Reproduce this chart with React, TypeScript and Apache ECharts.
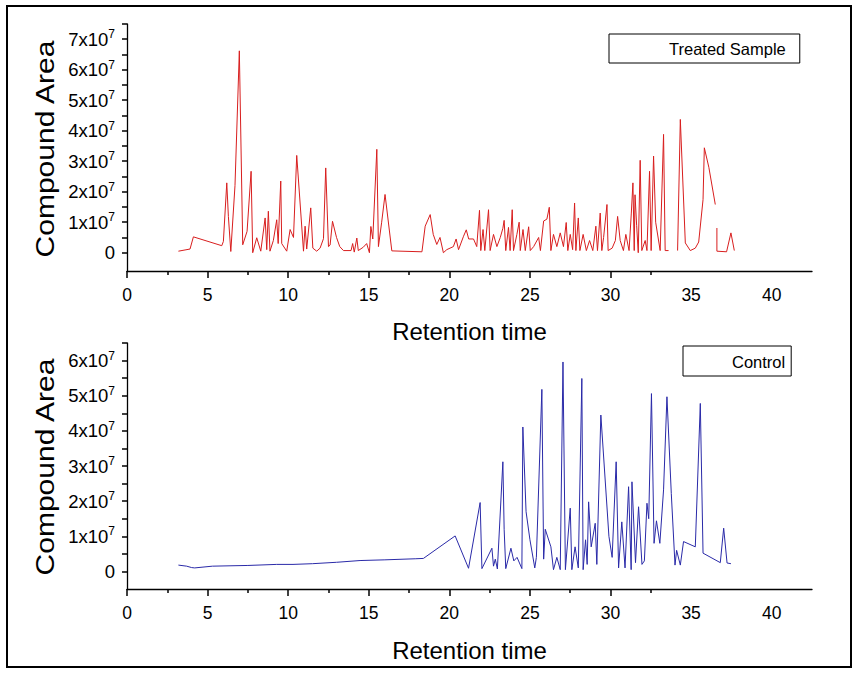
import React, { useEffect, useRef } from "react";
import * as echarts from "echarts";

// Retention time (min) and compound area (in units of 10^7) — Treated Sample
const treatedTime = [
  3.19, 3.91, 4.12, 5.88, 5.98, 6.19, 6.29, 6.44, 6.7, 6.97,
  7.18, 7.45, 7.7, 7.8, 8.05, 8.3, 8.57, 8.67, 8.77, 8.87,
  9.08, 9.29, 9.38, 9.54, 9.6, 9.91, 10.12, 10.33, 10.53, 10.95,
  11.05, 11.15, 11.4, 11.53, 11.77, 11.98, 12.19, 12.33, 12.5, 12.6,
  12.75, 13.0, 13.2, 13.43, 13.9, 14.0, 14.1, 14.26, 14.35, 14.66,
  14.87, 15.04, 15.13, 15.25, 15.5, 15.6, 15.8, 16.01, 16.43, 17.0,
  18.3, 18.5, 18.81, 19.0, 19.22, 19.42, 19.63, 19.84, 20.25, 20.42,
  20.57, 20.88, 21.05, 21.2, 21.5, 21.7, 21.87, 21.95, 22.09, 22.2,
  22.43, 22.53, 22.74, 22.95, 23.16, 23.32, 23.4, 23.5, 23.67, 23.77,
  23.9, 23.98, 24.19, 24.33, 24.4, 24.57, 24.71, 24.92, 25.02, 25.23,
  25.54, 25.65, 25.85, 26.05, 26.2, 26.3, 26.46, 26.67, 26.88, 27.08,
  27.25, 27.35, 27.5, 27.65, 27.77, 27.85, 28.0, 28.1, 28.3, 28.5,
  28.7, 28.9, 29.09, 29.19, 29.36, 29.46, 29.57, 29.78, 29.85, 30.1,
  30.3, 30.44, 30.6, 30.8, 30.95, 31.15, 31.29, 31.39, 31.47, 31.52,
  31.62, 31.72, 31.84, 31.94, 32.15, 32.26, 32.42, 32.52, 32.67, 32.8,
  33.08, 33.29, 33.39, 33.6, 33.85, 34.16, 34.33, 34.64, 34.95, 35.26,
  35.47, 35.74, 35.82, 36.1, 36.5, 36.55, 36.6, 36.6, 37.2, 37.47,
  37.68,
];
const treatedArea = [
  0.05, 0.12, 0.52, 0.23, 0.37, 2.29, 1.19, 0.04, 2.2, 6.62,
  0.26, 0.7, 2.67, 0.0, 0.49, 0.05, 1.14, 0.1, 1.36, 0.05,
  0.4, 1.08, 0.3, 2.35, 0.3, 0.05, 0.76, 0.5, 3.19, 0.05,
  0.87, 0.12, 1.47, 0.15, 0.05, 0.15, 0.46, 2.78, 0.2, 0.25,
  1.03, 0.5, 0.2, 0.07, 0.07, 0.3, 0.02, 0.48, 0.07, 0.18,
  0.3, 0.0, 0.86, 0.45, 3.39, 0.2, 1.0, 1.91, 0.06, 0.05,
  0.03, 0.87, 1.25, 0.6, 0.27, 0.5, 0.0, 0.1, 0.2, 0.45,
  0.1, 0.54, 0.75, 0.45, 0.45, 0.2, 1.39, 0.07, 0.76, 0.07,
  1.41, 0.07, 0.6, 0.2, 0.5, 0.8, 1.06, 0.07, 0.83, 0.07,
  1.41, 0.07, 0.6, 1.0, 0.07, 0.76, 0.07, 0.85, 0.07, 0.2,
  0.5, 0.07, 1.04, 1.1, 1.49, 0.07, 0.6, 0.2, 0.65, 0.2,
  0.99, 0.07, 0.6, 0.1, 1.63, 0.07, 1.14, 0.07, 0.6, 0.07,
  0.4, 0.07, 0.87, 0.07, 1.3, 0.07, 0.5, 1.58, 0.07, 0.15,
  0.4, 1.19, 0.4, 0.07, 0.6, 0.07, 1.3, 2.29, 0.07, 1.9,
  0.9, 0.0, 3.03, 0.07, 0.4, 0.07, 2.67, 0.07, 3.17, 1.0,
  0.07, 3.88, 0.07, 0.07, null, 0.07, 4.37, 0.32, 0.07, 0.15,
  0.35, 1.74, 3.44, 2.8, 1.58, null, 0.81, 0.05, 0.03, 0.65,
  0.07,
];

// Control
const controlTime = [
  3.19, 3.7, 4.01, 4.2, 5.3, 6.39, 7.5, 9.29, 10.3, 11.5,
  13.0, 14.46, 16.0, 17.88, 18.39, 20.36, 21.19, 21.91, 22.02, 22.64,
  22.74, 22.85, 22.98, 23.32, 23.4, 23.5, 23.82, 24.0, 24.2, 24.5,
  24.56, 24.76, 25.0, 25.3, 25.4, 25.74, 25.85, 25.95, 26.3, 26.46,
  26.67, 26.88, 27.05, 27.2, 27.5, 27.6, 27.8, 28.0, 28.22, 28.3,
  28.45, 28.55, 28.64, 28.8, 29.05, 29.15, 29.4, 29.9, 30.1, 30.35,
  30.5, 30.7, 30.9, 31.12, 31.28, 31.33, 31.55, 31.74, 31.95, 32.1,
  32.26, 32.37, 32.54, 32.7, 32.85, 33.06, 33.29, 33.5, 33.77, 34.0,
  34.1, 34.33, 34.53, 35.26, 35.57, 35.74, 36.81, 37.02, 37.23, 37.47,
];
const controlArea = [
  0.18, 0.15, 0.11, 0.1, 0.15, 0.16, 0.17, 0.2, 0.2, 0.22,
  0.26, 0.31, 0.33, 0.36, 0.37, 1.01, 0.09, 1.96, 0.08, 0.66,
  0.15, 0.35, 0.07, 3.12, 1.2, 0.08, 0.66, 0.3, 0.4, 0.08,
  4.11, 1.7, 0.9, 0.1, 0.4, 5.18, 0.35, 1.2, 0.7, 0.05,
  0.4, 0.05, 5.96, 0.05, 1.8, 0.05, 0.7, 0.1, 5.49, 0.05,
  0.9, 0.2, 1.98, 0.7, 1.37, 0.2, 4.45, 1.0, 0.4, 3.12,
  0.1, 1.41, 0.1, 2.41, 0.05, 2.55, 0.25, 1.84, 0.2, 0.3,
  1.94, 1.5, 5.06, 0.8, 1.44, 0.8, 2.32, 4.97, 2.22, 0.18,
  0.6, 0.18, 0.85, 0.7, 4.78, 0.52, 0.25, 1.23, 0.24, 0.22,
];

const xLabelValues = [0, 5, 10, 15, 20, 25, 30, 35, 40];
const xMajorTicks = [0, 5, 10, 15, 20, 25, 30];
const xMinorTicks = [2.5, 7.5, 12.5, 17.5, 22.5, 27.5, 32.5];
const treatedYLabels = [0, 1, 2, 3, 4, 5, 6, 7];
const treatedYTicks = [0, 0.5, 1, 1.5, 2, 2.5, 3, 3.5, 4, 4.5, 5, 5.5, 6, 6.5, 7, 7.5];
const controlYLabels = [0, 1, 2, 3, 4, 5, 6];
const controlYTicks = [0, 0.5, 1, 1.5, 2, 2.5, 3, 3.5, 4, 4.5, 5, 5.5, 6, 6.5];

const FONT = "'Liberation Sans', Arial, sans-serif";
const AX = "#000";
const X_MAX = 42.5;

function toData(t: number[], v: (number | null)[]) {
  return t.map((x, i) => [x, v[i] === null ? "-" : v[i]]);
}

function yFormatter(v: number) {
  return v === 0 ? "0" : `{m|${v}x10}{s|7}`;
}

function makeXAxes(gridIndex: number, nameGap: number) {
  return [
    {
      type: "value",
      gridIndex,
      min: 0,
      max: X_MAX,
      position: "bottom",
      axisLine: { show: true, onZero: false, lineStyle: { color: AX, width: 1.3 } },
      axisTick: { show: true, customValues: xMajorTicks, length: 7, lineStyle: { color: AX, width: 1.5 } },
      axisLabel: { customValues: xLabelValues, fontSize: 17.5, color: "#000", margin: 15, fontFamily: FONT },
      splitLine: { show: false },
      name: "Retention time",
      nameLocation: "middle",
      nameGap,
      nameTextStyle: { fontSize: 24, color: "#000", fontFamily: FONT },
    },
    {
      type: "value",
      gridIndex,
      min: 0,
      max: X_MAX,
      position: "bottom",
      axisLine: { show: false, onZero: false },
      axisTick: { show: true, customValues: xMinorTicks, length: 4, lineStyle: { color: AX, width: 1.5 } },
      axisLabel: { show: false },
      splitLine: { show: false },
    },
  ];
}

function makeYAxis(gridIndex: number, min: number, max: number, labels: number[], ticks: number[]) {
  return {
    type: "value",
    gridIndex,
    min,
    max,
    position: "left",
    axisLine: { show: true, onZero: false, lineStyle: { color: AX, width: 1.3 } },
    axisTick: { show: true, customValues: ticks, length: 5, lineStyle: { color: AX, width: 1.5 } },
    axisLabel: {
      customValues: labels,
      formatter: yFormatter,
      fontSize: 18.5,
      color: "#000",
      margin: 12,
      fontFamily: FONT,
      rich: {
        m: { fontSize: 18.5, color: "#000", fontFamily: FONT },
        s: { fontSize: 12, color: "#000", fontFamily: FONT, padding: [0, 0, 10, 0] },
      },
    },
    splitLine: { show: false },
  };
}

function yName(cx: number, cy: number) {
  return {
    type: "text",
    x: cx,
    y: cy,
    rotation: Math.PI / 2,
    scaleX: 1.2,
    silent: true,
    style: {
      text: "Compound Area",
      fontSize: 25,
      fontFamily: FONT,
      fill: "#000",
      align: "center",
      verticalAlign: "middle",
    },
  };
}

export default function App() {
  const ref = useRef<HTMLDivElement>(null);
  useEffect(() => {
    if (!ref.current) return;
    const chart = echarts.init(ref.current, null, { renderer: "svg" });
    chart.setOption({
      animation: false,
      textStyle: { fontFamily: FONT },
      grid: [
        { left: 127, top: 24, width: 685, height: 247 },
        { left: 127, top: 343, width: 685, height: 246 },
      ],
      xAxis: [...makeXAxes(0, 48), ...makeXAxes(1, 49)],
      yAxis: [
        makeYAxis(0, -0.6, 7.5, treatedYLabels, treatedYTicks),
        makeYAxis(1, -0.5, 6.5, controlYLabels, controlYTicks),
      ],
      legend: [
        {
          data: [{ name: "Treated Sample", icon: "none" }],
          left: 609,
          top: 34,
          itemWidth: 25,
          itemGap: 5,
          padding: [6, 14, 6, 30],
          borderColor: "#000",
          borderWidth: 1,
          selectedMode: false,
          textStyle: { fontSize: 16.5, color: "#000", fontFamily: FONT },
        },
        {
          data: [{ name: "Control", icon: "none" }],
          left: 683,
          top: 346,
          itemWidth: 25,
          itemGap: 5,
          padding: [7, 6, 6, 19],
          borderColor: "#000",
          borderWidth: 1,
          selectedMode: false,
          textStyle: { fontSize: 16.5, color: "#000", fontFamily: FONT },
        },
      ],
      series: [
        {
          name: "Treated Sample",
          type: "line",
          xAxisIndex: 0,
          yAxisIndex: 0,
          symbol: "none",
          connectNulls: false,
          lineStyle: { color: "#d81e1e", width: 1 },
          itemStyle: { color: "#d81e1e" },
          data: toData(treatedTime, treatedArea),
        },
        {
          name: "Control",
          type: "line",
          xAxisIndex: 2,
          yAxisIndex: 1,
          symbol: "none",
          connectNulls: false,
          lineStyle: { color: "#2a2aa8", width: 1 },
          itemStyle: { color: "#2a2aa8" },
          data: toData(controlTime, controlArea),
        },
      ],
      graphic: [yName(45, 149), yName(45, 467)],
    });
    return () => chart.dispose();
  }, []);
  return (
    <div style={{ position: "absolute", left: 0, top: 0, width: 857, height: 673, background: "#fff" }}>
      <div ref={ref} style={{ position: "absolute", left: 0, top: 0, width: 857, height: 673 }} />
      <div
        style={{
          position: "absolute",
          left: 6,
          top: 5,
          width: 842,
          height: 659,
          border: "2.5px solid #000",
          pointerEvents: "none",
        }}
      />
    </div>
  );
}
